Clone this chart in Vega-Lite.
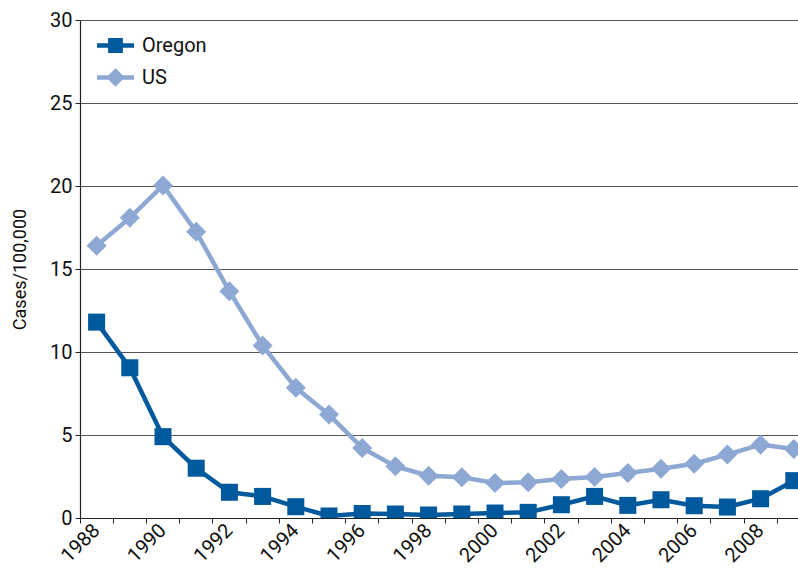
{
  "$schema": "https://vega.github.io/schema/vega-lite/v6.json",
  "width": 718,
  "height": 498,
  "autosize": {"type": "none"},
  "padding": {"left": 80, "top": 20, "right": 0, "bottom": 51},
  "background": "white",
  "config": {
    "font": "Roboto",
    "view": {"stroke": null},
    "axis": {"labelColor": "#111", "titleColor": "#111", "domainColor": "#222", "tickColor": "#222", "labelFont": "Roboto", "titleFont": "Roboto"},
    "legend": {
      "orient": "none", "legendX": 17, "legendY": 7,
      "symbolSize": 1369, "symbolOpacity": 1, "symbolStrokeWidth": 0,
      "labelFontSize": 20, "labelFont": "Roboto", "labelColor": "#111",
      "labelOffset": 8, "rowPadding": 3
    }
  },
  "data": {"values": [
    {"Year": 1988, "Series": "Oregon", "Value": 11.8},
    {"Year": 1989, "Series": "Oregon", "Value": 9.05},
    {"Year": 1990, "Series": "Oregon", "Value": 4.9},
    {"Year": 1991, "Series": "Oregon", "Value": 3.0},
    {"Year": 1992, "Series": "Oregon", "Value": 1.55},
    {"Year": 1993, "Series": "Oregon", "Value": 1.3},
    {"Year": 1994, "Series": "Oregon", "Value": 0.68},
    {"Year": 1995, "Series": "Oregon", "Value": 0.12},
    {"Year": 1996, "Series": "Oregon", "Value": 0.27},
    {"Year": 1997, "Series": "Oregon", "Value": 0.24},
    {"Year": 1998, "Series": "Oregon", "Value": 0.18},
    {"Year": 1999, "Series": "Oregon", "Value": 0.24},
    {"Year": 2000, "Series": "Oregon", "Value": 0.3},
    {"Year": 2001, "Series": "Oregon", "Value": 0.34},
    {"Year": 2002, "Series": "Oregon", "Value": 0.8},
    {"Year": 2003, "Series": "Oregon", "Value": 1.3},
    {"Year": 2004, "Series": "Oregon", "Value": 0.76},
    {"Year": 2005, "Series": "Oregon", "Value": 1.1},
    {"Year": 2006, "Series": "Oregon", "Value": 0.74},
    {"Year": 2007, "Series": "Oregon", "Value": 0.66},
    {"Year": 2008, "Series": "Oregon", "Value": 1.16},
    {"Year": 2009, "Series": "Oregon", "Value": 2.25},
    {"Year": 1988, "Series": "US", "Value": 16.4},
    {"Year": 1989, "Series": "US", "Value": 18.08},
    {"Year": 1990, "Series": "US", "Value": 20.03},
    {"Year": 1991, "Series": "US", "Value": 17.24},
    {"Year": 1992, "Series": "US", "Value": 13.66},
    {"Year": 1993, "Series": "US", "Value": 10.39},
    {"Year": 1994, "Series": "US", "Value": 7.84},
    {"Year": 1995, "Series": "US", "Value": 6.23},
    {"Year": 1996, "Series": "US", "Value": 4.22},
    {"Year": 1997, "Series": "US", "Value": 3.11},
    {"Year": 1998, "Series": "US", "Value": 2.55},
    {"Year": 1999, "Series": "US", "Value": 2.45},
    {"Year": 2000, "Series": "US", "Value": 2.11},
    {"Year": 2001, "Series": "US", "Value": 2.15},
    {"Year": 2002, "Series": "US", "Value": 2.35},
    {"Year": 2003, "Series": "US", "Value": 2.47},
    {"Year": 2004, "Series": "US", "Value": 2.71},
    {"Year": 2005, "Series": "US", "Value": 2.97},
    {"Year": 2006, "Series": "US", "Value": 3.27},
    {"Year": 2007, "Series": "US", "Value": 3.82},
    {"Year": 2008, "Series": "US", "Value": 4.42},
    {"Year": 2009, "Series": "US", "Value": 4.16}
  ]},
  "encoding": {
    "x": {
      "field": "Year", "type": "ordinal",
      "scale": {"type": "band", "paddingInner": 0, "paddingOuter": 0, "range": [0, 730.4]},
      "axis": {
        "title": null, "bandPosition": 0, "labelAngle": -45, "labelAlign": "right", "labelBaseline": "middle",
        "labelFontSize": 20, "labelExpr": "datum.value % 2 == 0 ? datum.label : ''",
        "tickSize": 5, "labelPadding": 4, "domainWidth": 1.2, "grid": false, "labelOverlap": false
      }
    },
    "y": {
      "field": "Value", "type": "quantitative",
      "scale": {"domain": [0, 30], "nice": false},
      "axis": {
        "title": "Cases/100,000", "titleFontSize": 18, "titleFontWeight": "normal", "titlePadding": 20,
        "values": [0, 5, 10, 15, 20, 25, 30], "labelFontSize": 20, "tickSize": 5, "labelPadding": 3,
        "grid": true, "gridColor": "#555", "gridWidth": 1, "domainWidth": 1.2
      }
    },
    "color": {
      "field": "Series", "type": "nominal",
      "scale": {"domain": ["Oregon", "US"], "range": ["#00599C", "#8DA8D3"]},
      "legend": {"title": null}
    }
  },
  "layer": [
    {"mark": {"type": "line", "strokeWidth": 4.5, "clip": true}},
    {
      "transform": [{"filter": "datum.Series == 'Oregon'"}],
      "mark": {"type": "point", "filled": true, "opacity": 1, "clip": true, "shape": "square", "size": 290}
    },
    {
      "transform": [{"filter": "datum.Series == 'US'"}],
      "mark": {"type": "point", "filled": true, "opacity": 1, "clip": true, "shape": "diamond", "size": 400}
    },
    {
      "mark": {"type": "point", "filled": true, "opacity": 0},
      "encoding": {
        "shape": {
          "field": "Series", "type": "nominal",
          "scale": {"domain": ["Oregon", "US"], "range": [
            "M-1,-0.12H-0.4V-0.4H0.4V-0.12H1V0.12H0.4V0.4H-0.4V0.12H-1Z",
            "M-1,-0.12H-0.38L0,-0.5L0.38,-0.12H1V0.12H0.38L0,0.5L-0.38,0.12H-1Z"
          ]},
          "legend": {"title": null}
        },
        "size": {"value": 100}
      }
    }
  ]
}
